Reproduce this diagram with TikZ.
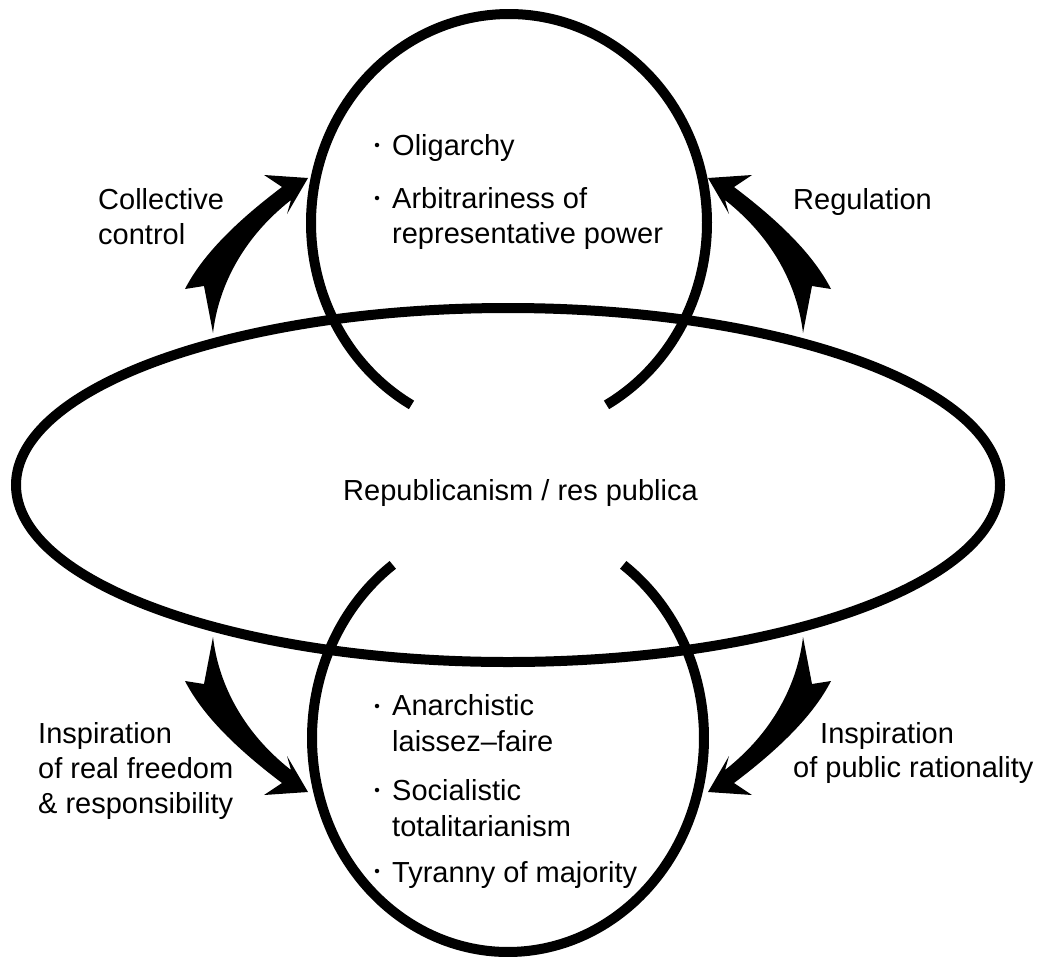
\documentclass[tikz,border=0pt]{standalone}
\usepackage{fontspec}
\setmainfont{Liberation Sans}
\newcommand{\bigcurvedarrow}{%
  \fill (308,178) -- (264,175) -- (282,187)
    .. controls (245,215) and (205,250) .. (185,289)
    -- (204,286) -- (213,333)
    .. controls (218,290) and (240,240) .. (291,200)
    -- (287,214) -- cycle;}
\begin{document}
\begin{tikzpicture}[x=1pt,y=-1pt,
  ring/.style={line width=10pt},
  lbl/.style={anchor=base west, inner sep=0pt, font=\fontsize{29}{35}\selectfont},
  bul/.style={circle, fill=black, inner sep=0pt, minimum size=4.5pt}]
\useasboundingbox (0,0) rectangle (1043,958);
% ellipse and circles
\draw[ring] (508,485) ellipse [x radius=492pt, y radius=177pt];
\draw[ring] plot[smooth, domain=119.5:420.5, samples=120, variable=\t]
  ({509+198*cos(\t)},{223+209*sin(\t)});
\draw[ring] plot[smooth, domain=-54:234, samples=120, variable=\t]
  ({508+196*cos(\t)},{738+214*sin(\t)});
% arrows
\bigcurvedarrow
\begin{scope}[shift={(1016,0)},xscale=-1]\bigcurvedarrow\end{scope}
\begin{scope}[shift={(0,970)},yscale=-1]\bigcurvedarrow\end{scope}
\begin{scope}[shift={(1016,970)},xscale=-1,yscale=-1]\bigcurvedarrow\end{scope}
% top circle text
\node[bul] (b1) at (377,145) {};
\node[lbl] (t1) at (392,155) {Oligarchy};
\node[bul] (b2) at (377,198) {};
\node[lbl] (t2) at (392,208) {Arbitrariness of};
\node[lbl] (t3) at (392,243) {representative power};
% bottom circle text
\node[bul] (b3) at (377,706) {};
\node[lbl] (u1) at (392,715) {Anarchistic};
\node[lbl] (u2) at (392,751) {laissez–faire};
\node[bul] (b4) at (377,790) {};
\node[lbl] (u3) at (392,800) {Socialistic};
\node[lbl] (u4) at (392,836) {totalitarianism};
\node[bul] (b5) at (377,871) {};
\node[lbl] (u5) at (392,882) {Tyranny of majority};
% centre
\node[lbl] (c) at (343,500) {Republicanism / res publica};
% side labels
\node[lbl] (l1) at (98,209) {Collective};
\node[lbl] (l2) at (98,244) {control};
\node[lbl] (r1) at (793,209) {Regulation};
\node[lbl] (l3) at (38,743) {Inspiration};
\node[lbl] (l4) at (38,778) {of real freedom};
\node[lbl] (l5) at (38,813) {\& responsibility};
\node[lbl] (r2) at (820,743) {Inspiration};
\node[lbl] (r3) at (793,777) {of public rationality};
\end{tikzpicture}
\end{document}
